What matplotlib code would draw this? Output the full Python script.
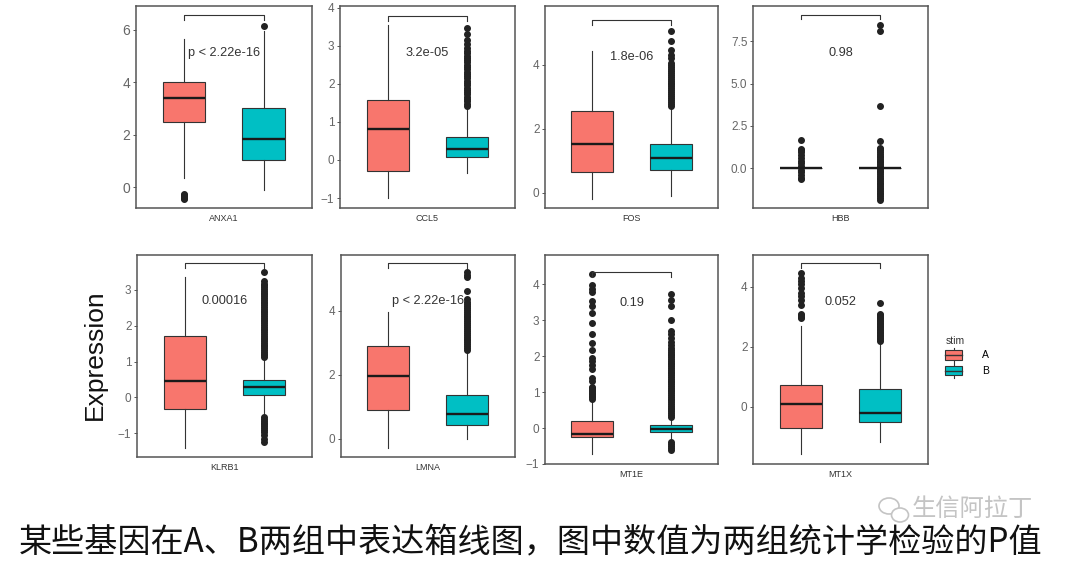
import matplotlib
matplotlib.use("Agg")
import matplotlib.pyplot as plt
from matplotlib.patches import Patch, Ellipse, Rectangle
from matplotlib.lines import Line2D
from matplotlib.legend_handler import HandlerBase

plt.rcParams['font.family'] = ['Liberation Sans', 'DejaVu Sans']

# ---------------- data ----------------
genes = ["ANXA1", "CCL5", "FOS", "HBB", "KLRB1", "LMNA", "MT1E", "MT1X"]
groups = ["A", "B"]
p_labels = ["p < 2.22e-16", "3.2e-05", "1.8e-06", "0.98",
            "0.00016", "p < 2.22e-16", "0.19", "0.052"]

# box statistics per gene: whisker low, q1, median, q3, whisker high
A_lo  = [0.34, -1.01, -0.20, 0.0, -1.40, -0.28, -0.73, -1.59]
A_q1  = [2.48, -0.30, 0.66, 0.0, -0.33, 0.91, -0.25, -0.70]
A_med = [3.39, 0.82, 1.52, 0.0, 0.47, 1.97, -0.16, 0.08]
A_q3  = [4.00, 1.58, 2.54, 0.0, 1.72, 2.91, 0.20, 0.74]
A_hi  = [5.64, 3.54, 4.41, 0.0, 3.35, 3.97, 0.75, 2.70]

B_lo  = [-0.10, -0.33, -0.10, 0.0, -0.50, 0.00, -0.35, -1.16]
B_q1  = [1.03, 0.07, 0.71, 0.0, 0.08, 0.44, -0.11, -0.50]
B_med = [1.83, 0.29, 1.07, 0.0, 0.29, 0.78, -0.03, -0.21]
B_q3  = [3.03, 0.61, 1.52, 0.0, 0.48, 1.38, 0.09, 0.59]
B_hi  = [5.95, 1.40, 2.70, 0.0, 1.10, 2.75, 0.30, 2.15]

# outliers
A_fliers = [
    [-0.25, -0.30, -0.35, -0.40, -0.45],
    [],
    [],
    [-0.65, -0.55, -0.40, -0.25, -0.10, 0.15, 0.30, 0.45, 0.60, 0.80, 0.95,
     1.05, 1.15, 1.66],
    [],
    [],
    [0.82, 0.86, 0.90, 0.94, 0.98, 1.02, 1.06, 1.10, 1.15, 1.30, 1.39, 1.63,
     1.76, 1.86, 1.95, 2.16, 2.35, 2.62, 2.92, 3.19, 3.40, 3.54, 3.78, 3.87,
     3.97, 4.29],
    [2.95, 3.00, 3.05, 3.10, 3.40, 3.55, 3.70, 3.80, 3.95, 4.10, 4.20, 4.30,
     4.45],
]
B_fliers = [
    [6.12],
    [1.42, 1.48, 1.54, 1.60, 1.66, 1.72, 1.78, 1.84, 1.90, 1.96, 2.02, 2.08,
     2.14, 2.20, 2.26, 2.32, 2.38, 2.44, 2.50, 2.56, 2.62, 2.68, 2.74, 2.80,
     2.86, 2.95, 3.05, 3.15, 3.30, 3.47],
    [2.72, 2.78, 2.84, 2.90, 2.96, 3.02, 3.08, 3.14, 3.20, 3.26, 3.32, 3.38,
     3.44, 3.50, 3.56, 3.62, 3.68, 3.74, 3.80, 3.86, 3.92, 3.98, 4.05, 4.20,
     4.30, 4.45, 4.75, 5.05],
    [-1.85, -1.75, -1.65, -1.55, -1.45, -1.35, -1.25, -1.15, -1.05, -0.95,
     -0.85, -0.75, -0.65, -0.55, -0.45, -0.35, -0.25, -0.15, -0.05, 0.05,
     0.15, 0.25, 0.35, 0.45, 0.55, 0.65, 0.75, 0.85, 0.95, 1.05, 1.15, 1.20,
     1.60, 3.65, 8.10, 8.45],
    [-1.25, -1.15, -1.05, -0.95, -0.90, -0.85, -0.80, -0.75, -0.70, -0.65,
     -0.60, -0.55, 1.12, 1.17, 1.22, 1.27, 1.32, 1.37, 1.42, 1.47, 1.52, 1.57,
     1.62, 1.67, 1.72, 1.77, 1.82, 1.87, 1.92, 1.97, 2.02, 2.07, 2.12, 2.17,
     2.22, 2.27, 2.32, 2.37, 2.42, 2.47, 2.52, 2.57, 2.62, 2.67, 2.72, 2.77,
     2.82, 2.87, 2.92, 2.97, 3.02, 3.07, 3.12, 3.17, 3.25, 3.50],
    [2.77, 2.83, 2.89, 2.95, 3.01, 3.07, 3.13, 3.19, 3.25, 3.31, 3.37, 3.43,
     3.49, 3.55, 3.61, 3.67, 3.73, 3.79, 3.85, 3.91, 3.97, 4.03, 4.09, 4.15,
     4.21, 4.27, 4.35, 4.60, 5.05, 5.12, 5.20],
    [-0.60, -0.55, -0.50, -0.45, -0.40, 0.32, 0.37, 0.42, 0.47, 0.52, 0.57,
     0.62, 0.67, 0.72, 0.77, 0.82, 0.87, 0.92, 0.97, 1.02, 1.07, 1.12, 1.17,
     1.22, 1.27, 1.32, 1.37, 1.42, 1.47, 1.52, 1.57, 1.62, 1.67, 1.72, 1.77,
     1.82, 1.87, 1.92, 1.97, 2.02, 2.07, 2.12, 2.17, 2.22, 2.30, 2.40, 2.50,
     2.60, 2.70, 3.00, 3.40, 3.55, 3.72],
    [2.20, 2.25, 2.30, 2.35, 2.40, 2.45, 2.50, 2.55, 2.60, 2.65, 2.70, 2.75,
     2.80, 2.85, 2.90, 2.95, 3.00, 3.05, 3.10, 3.45],
]

y_ticks = [[0, 2, 4, 6], [-1, 0, 1, 2, 3, 4], [0, 2, 4], [0.0, 2.5, 5.0, 7.5],
           [-1, 0, 1, 2, 3], [0, 2, 4], [-1, 0, 1, 2, 3, 4], [0, 2, 4]]

# ---------------- layout (pixels) ----------------
W, H = 1080, 569
panel_px = [  # left, top, right, bottom
    (136, 6, 311.5, 208), (340, 6, 515, 208), (545, 6, 718, 208), (753, 6, 928, 208),
    (137, 255, 311.5, 457), (340.5, 255, 515, 457), (545, 255, 718, 464), (753, 255, 928, 464),
]
ylims = [(-0.8, 6.9), (-1.26, 4.04), (-0.48, 5.83), (-2.35, 9.59),
         (-1.66, 3.97), (-0.57, 5.74), (-1.0, 4.81), (-1.91, 5.06)]
label_y = [5.1, 2.8, 4.24, 6.8, 2.69, 4.3, 3.47, 3.48]
bracket_y = [6.55, 3.79, 5.40, 9.05, 3.76, 5.50, 4.33, 4.79]
bracket_tick = [0.19, 0.14, 0.15, 0.2, 0.16, 0.18, 0.14, 0.17]
tick_fs = [10, 8.5, 8.5, 8.5, 8.5, 8.5, 8.5, 8.5]

colA, colB = "#F8766D", "#00BFC4"
edge = "#333333"

fig = plt.figure(figsize=(W / 100, H / 100), dpi=100)

for i, g in enumerate(genes):
    l, t, r, b = panel_px[i]
    ax = fig.add_axes([l / W, 1 - b / H, (r - l) / W, (b - t) / H])
    stats = [
        dict(whislo=A_lo[i], q1=A_q1[i], med=A_med[i], q3=A_q3[i], whishi=A_hi[i],
             fliers=A_fliers[i], label="A"),
        dict(whislo=B_lo[i], q1=B_q1[i], med=B_med[i], q3=B_q3[i], whishi=B_hi[i],
             fliers=B_fliers[i], label="B"),
    ]
    bp = ax.bxp(stats, positions=[1, 2], widths=0.53, patch_artist=True,
                showcaps=False,
                boxprops=dict(edgecolor=edge, linewidth=0.8),
                whiskerprops=dict(color=edge, linewidth=0.8),
                medianprops=dict(color="#1a1a1a", linewidth=1.7),
                flierprops=dict(marker="o", markerfacecolor="#222222",
                                markeredgecolor="#222222", markersize=4.0,
                                linestyle="none"))
    for patch, c in zip(bp["boxes"], [colA, colB]):
        patch.set_facecolor(c)
    ax.set_xlim(0.4, 2.6)
    ax.set_ylim(*ylims[i])
    ax.set_yticks(y_ticks[i])
    if g == "HBB":
        ax.set_yticklabels([f"{v:.1f}" for v in y_ticks[i]])
    ax.set_xticks([1.5], [g])
    ax.tick_params(axis="x", length=0, labelsize=6.5, pad=4, labelcolor="#333333")
    ax.tick_params(axis="y", length=2.5, width=0.7, color="#555555",
                   labelsize=tick_fs[i], labelcolor="#666666", pad=1.5)
    for sp in ax.spines.values():
        sp.set_color("#555555")
        sp.set_linewidth(1.1)
    # bracket and p label
    yb, tk = bracket_y[i], bracket_tick[i]
    ax.plot([1, 1, 2, 2], [yb - tk, yb, yb, yb - tk], color="#333333", lw=0.8)
    ax.text(1.5, label_y[i], p_labels[i], ha="center", va="center",
            fontsize=9.2, color="#333333")

# y label
fig.text(95 / W, 1 - 355 / H, "Expression", rotation=90, ha="center", va="center",
         fontsize=19, color="#111111")


# legend with small boxplot keys
class HandlerBoxKey(HandlerBase):
    def create_artists(self, legend, orig_handle, xdescent, ydescent, width,
                       height, fontsize, trans):
        fc = orig_handle.get_facecolor()
        bh = height * 0.68
        y0 = -ydescent + (height - bh) / 2
        rect = Rectangle((-xdescent, y0), width, bh, facecolor=fc,
                         edgecolor=edge, linewidth=0.8, transform=trans)
        xm = -xdescent + width / 2
        whisk = Line2D([xm, xm], [-ydescent, -ydescent + height], color=edge,
                       lw=0.8, transform=trans)
        med = Line2D([-xdescent, -xdescent + width],
                     [-ydescent + height / 2] * 2, color="#333333", lw=1.0,
                     transform=trans)
        return [whisk, rect, med]


handles = [Patch(facecolor=colA, edgecolor=edge), Patch(facecolor=colB, edgecolor=edge)]
leg = fig.legend(handles, groups, title="stim",
                 handler_map={Patch: HandlerBoxKey()},
                 loc="upper left", bbox_to_anchor=(938 / W, 1 - 329 / H),
                 frameon=False, fontsize=7.5, title_fontsize=7.5,
                 handlelength=1.6, handleheight=1.7, handletextpad=1.9,
                 labelspacing=0.15, alignment="left", borderaxespad=0.3)
leg.get_title().set_color("#333333")

# caption
fig.text(19 / W, 1 - 542 / H, "某些基因在A、B两组中表达箱线图，图中数值为两组统计学检验的P值",
         ha="left", va="center", fontsize=23.85,
         family=["Noto Sans CJK SC", "DejaVu Sans"], color="#111111")

# watermark
wm_col = "#c4c4c4"
fig.text(912 / W, 1 - 509 / H, "生信阿拉丁", ha="left", va="center", fontsize=17.5,
         family=["Noto Sans CJK SC", "DejaVu Sans"], color=wm_col)
fig.patches.append(Ellipse((889 / W, 1 - 506 / H), 20 / W, 16 / H, fill=False,
                           edgecolor=wm_col, lw=1.2, transform=fig.transFigure))
fig.patches.append(Ellipse((900 / W, 1 - 515 / H), 17 / W, 14 / H, facecolor="white",
                           edgecolor=wm_col, lw=1.2, transform=fig.transFigure))

fig.savefig("out.png", dpi=100)
